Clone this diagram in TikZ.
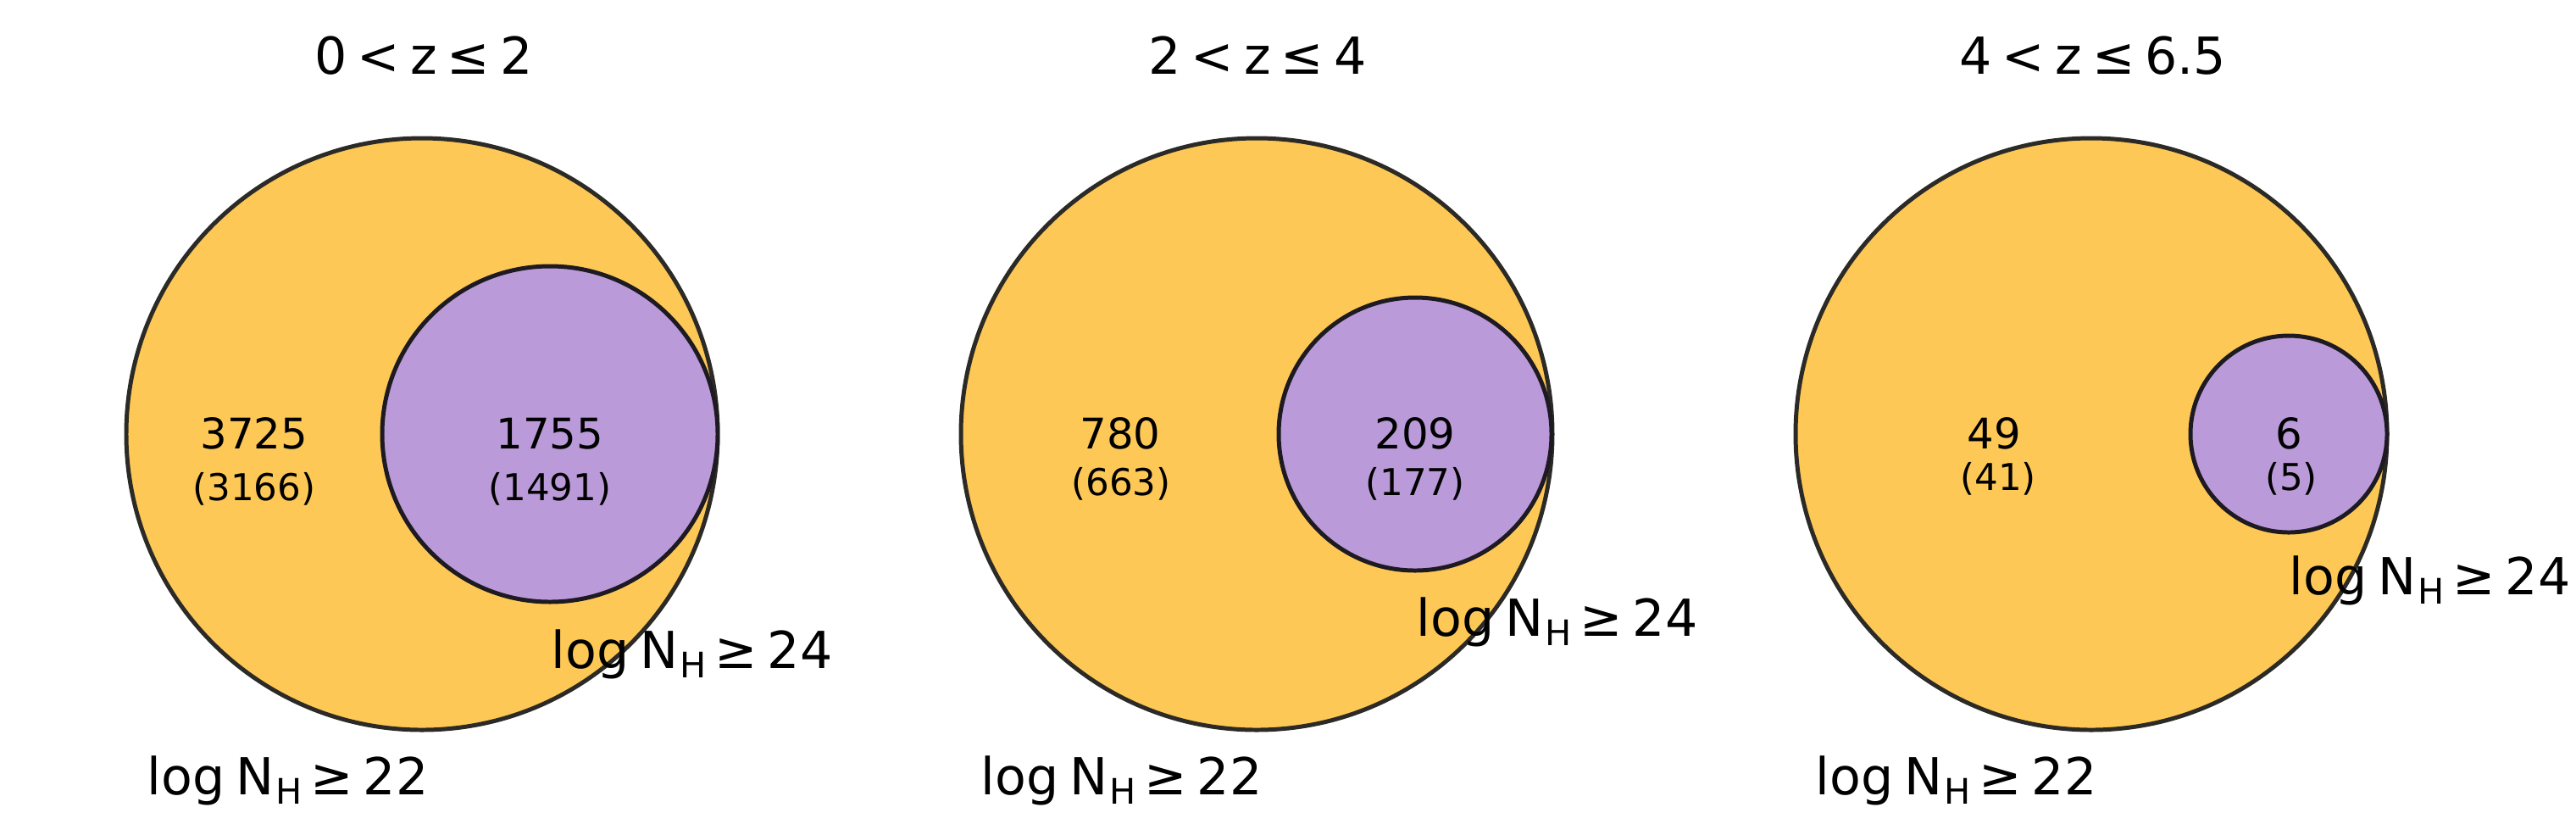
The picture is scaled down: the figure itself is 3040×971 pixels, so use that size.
\documentclass[tikz,border=0pt]{standalone}
\usepackage{fontspec}
\setmainfont{DejaVu Sans}
\definecolor{bigfill}{HTML}{FDC855}
\definecolor{smallfill}{HTML}{BA9AD8}
\definecolor{bigedge}{HTML}{2C2A26}
\definecolor{smalledge}{HTML}{1E1A22}
\newcommand{\bigsz}{\fontsize{14.5pt}{14.5pt}\selectfont}
\newcommand{\cntsz}{\fontsize{12pt}{12pt}\selectfont}
\newcommand{\parsz}{\fontsize{10.5pt}{10.5pt}\selectfont}
\newcommand{\rel}[1]{\hspace{0.2em}#1\hspace{0.2em}}
\newcommand{\nhlabel}[1]{log\hspace{0.21em}N\hspace{0.03em}\raisebox{-0.19em}{\fontsize{10pt}{10pt}\selectfont H}\hspace{0.17em}≥\hspace{0.2em}#1}
\tikzset{
  bigcirc/.style={fill=bigfill, draw=bigedge, line width=1.2pt},
  smallcirc/.style={fill=smallfill, draw=smalledge, line width=1.2pt},
  title/.style={font=\bigsz, anchor=base, inner sep=0pt},
  lab/.style={font=\bigsz, anchor=base west, inner sep=0pt},
  cnt/.style={font=\cntsz, anchor=base, inner sep=0pt},
  par/.style={font=\parsz, anchor=base, inner sep=0pt}
}
\begin{document}
\begin{tikzpicture}[x=0.2409pt, y=-0.2409pt]
\useasboundingbox (0,0) rectangle (3040,971);
% Panel 1
\node[title] (t1) at (500,87) {0\rel{<}z\rel{≤}2};
\draw[bigcirc] (498,512) circle (349);
\draw[smallcirc] (649,512) circle (198);
\node[cnt] (a1) at (300,529) {3725};
\node[par] (b1) at (300,590) {(3166)};
\node[cnt] (c1) at (649,529) {1755};
\node[par] (d1) at (649,590) {(1491)};
\node[lab] (l22a) at (173,937) {\nhlabel{22}};
\node[lab] (l24a) at (650,788) {\nhlabel{24}};
% Panel 2
\node[title] (t2) at (1484,87) {2\rel{<}z\rel{≤}4};
\draw[bigcirc] (1483,512) circle (349);
\draw[smallcirc] (1670,512) circle (161);
\node[cnt] (a2) at (1322,529) {780};
\node[par] (b2) at (1323,584) {(663)};
\node[cnt] (c2) at (1670,529) {209};
\node[par] (d2) at (1670,584) {(177)};
\node[lab] (l22b) at (1157,937) {\nhlabel{22}};
\node[lab] (l24b) at (1671,750) {\nhlabel{24}};
% Panel 3
\node[title] (t3) at (2470,87) {4\rel{<}z\rel{≤}6.5};
\draw[bigcirc] (2468,512) circle (349);
\draw[smallcirc] (2701,512) circle (116);
\node[cnt] (a3) at (2353,529) {49};
\node[par] (b3) at (2358,578) {(41)};
\node[cnt] (c3) at (2701,529) {6};
\node[par] (d3) at (2704,578) {(5)};
\node[lab] (l22c) at (2142,937) {\nhlabel{22}};
\node[lab] (l24c) at (2701,701) {\nhlabel{24}};
\end{tikzpicture}
\end{document}
